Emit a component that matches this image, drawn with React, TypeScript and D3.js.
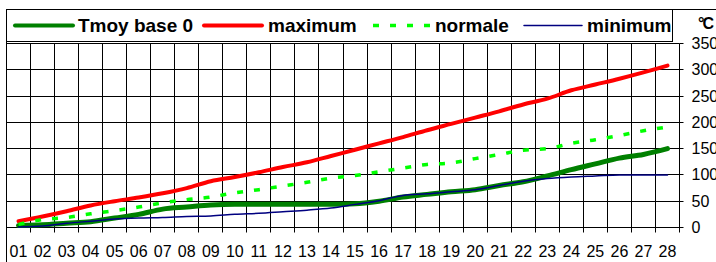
import React from 'react';
import * as d3 from 'd3';

const days = ['01', '02', '03', '04', '05', '06', '07', '08', '09', '10', '11', '12', '13', '14',
  '15', '16', '17', '18', '19', '20', '21', '22', '23', '24', '25', '26', '27', '28'];

const tmoy = [4, 5, 8, 11, 18, 25, 35, 39, 43, 44, 44, 44, 44, 44, 45, 50, 58, 63, 68, 72, 80, 87, 98, 110, 121, 132, 139, 150];
const maximum = [12, 21, 31, 42, 50, 57, 65, 75, 88, 96, 105, 115, 124, 136, 148, 160, 172, 185, 197, 209, 221, 234, 245, 261, 272, 283, 295, 308];
const normale = [6, 15, 19, 26, 32, 39, 47, 53, 58, 66, 72, 79, 86, 94, 99, 106, 113, 120, 123, 131, 139, 147, 150, 160, 167, 175, 184, 191];
const minimum = [1, 3, 8, 12, 16, 18, 19, 21, 22, 25, 27, 30, 33, 37, 44, 51, 61, 64, 68, 72, 80, 88, 93, 96, 98, 100, 100, 100];

const yTicks = [0, 50, 100, 150, 200, 250, 300, 350];

const series = [
  { name: 'Tmoy base 0', values: tmoy, color: '#008000', width: 5, dash: null, lx: 15, tx: 78 },
  { name: 'maximum', values: maximum, color: '#ff0000', width: 4, dash: null, lx: 204, tx: 268 },
  { name: 'normale', values: normale, color: '#00ff00', width: 3.5, dash: '6,11', lx: 373, tx: 435 },
  { name: 'minimum', values: minimum, color: '#000080', width: 1.5, dash: null, lx: 524, tx: 587 },
];

const W = 716;
const H = 262;
const left = 6.5;
const right = 679.5;
const top = 43.5;
const bottom = 227.5;
const font = '"Liberation Sans", Arial, sans-serif';

export default function App() {
  const x = d3.scaleBand<string>().domain(days).range([left, right]).padding(0);
  const y = d3.scaleLinear().domain([0, 350]).range([bottom, top]);
  const cx = (d: string) => (x(d) as number) + x.bandwidth() / 2;
  const crisp = (v: number) => Math.round(v - 0.5) + 0.5;

  const line = d3.line<number>()
    .x((_, i) => cx(days[i]))
    .y(v => y(v))
    .curve(d3.curveMonotoneX);

  return (
    <div style={{ position: 'absolute', left: 0, top: 0 }}>
      <svg width={W} height={H} style={{ display: 'block', background: '#fff' }}>
        {/* chart border */}
        <line x1={left} x2={W} y1={9.5} y2={9.5} stroke="#000" />
        <line x1={left} x2={left} y1={9.5} y2={H} stroke="#000" />

        {/* legend */}
        <rect x={left} y={9.5} width={666} height={32} fill="#fff" stroke="#000" />
        {series.map(s => (
          <g key={s.name}>
            <line x1={s.lx} x2={s.lx + 58} y1={25.5} y2={25.5} stroke={s.color}
              strokeWidth={s.dash ? 3.5 : s.width === 1.5 ? 1.5 : 4}
              strokeDasharray={s.dash || undefined} strokeLinecap={s.dash ? 'butt' : 'round'} />
            <text x={s.tx} y={32} fontFamily={font} fontWeight="bold" fontSize={19} fill="#000">{s.name}</text>
          </g>
        ))}

        {/* grid */}
        {yTicks.map(t => (
          <line key={'h' + t} x1={left} x2={right} y1={crisp(y(t))} y2={crisp(y(t))} stroke="#000" />
        ))}
        {days.map(d => (
          <line key={'v' + d} x1={crisp(x(d) as number)} x2={crisp(x(d) as number)} y1={top} y2={bottom + 5} stroke="#000" />
        ))}
        <line x1={right} x2={right} y1={top} y2={bottom + 5} stroke="#000" />

        {/* right axis ticks + labels */}
        {yTicks.map(t => (
          <g key={'yt' + t}>
            <line x1={right} x2={right + 4} y1={crisp(y(t))} y2={crisp(y(t))} stroke="#000" />
            <text x={691.5} y={y(t) + 5.5} fontFamily={font} fontSize={16} fill="#000">{t}</text>
          </g>
        ))}
        <text x={698} y={29} fontFamily={font} fontWeight="bold" fontSize={16} letterSpacing={-2} fill="#000">°C</text>

        {/* x labels */}
        {days.map(d => (
          <text key={'xl' + d} x={cx(d)} y={257} textAnchor="middle" fontFamily={font} fontSize={16} fill="#000">{d}</text>
        ))}

        {/* series */}
        {series.map(s => (
          <path key={'p' + s.name} d={line(s.values) || ''} fill="none" stroke={s.color}
            strokeWidth={s.width} strokeDasharray={s.dash || undefined}
            strokeLinecap={s.dash ? 'butt' : 'round'} strokeLinejoin="round" />
        ))}
      </svg>
    </div>
  );
}
